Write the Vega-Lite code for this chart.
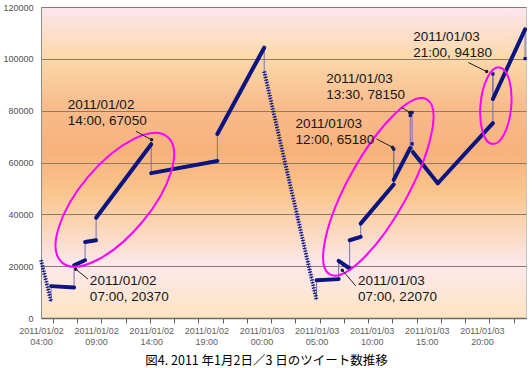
{
  "$schema": "https://vega.github.io/schema/vega-lite/v6.json",
  "width": 485,
  "height": 311,
  "autosize": {"type": "none"},
  "padding": {"left": 41, "top": 7, "right": 6, "bottom": 50},
  "background": "white",
  "title": {"text": "図4. 2011 年1月2日／3 日のツイート数推移", "orient": "bottom", "anchor": "middle", "dx": -17, "offset": 9, "font": "Noto Sans CJK JP", "fontSize": 12.5, "fontWeight": "normal", "color": "#000000"},
  "config": {
    "font": "Liberation Sans",
    "view": {
      "stroke": "#c4c4c4",
      "fill": {"gradient": "linear", "x1": 0, "y1": 0, "x2": 0, "y2": 1, "stops": [
        {"offset": 0, "color": "#fce6ee"},
        {"offset": 0.16, "color": "#fbd9aa"},
        {"offset": 0.32, "color": "#f8bb8c"},
        {"offset": 0.46, "color": "#f7b27c"},
        {"offset": 0.58, "color": "#f9c288"},
        {"offset": 0.7, "color": "#fbd6b6"},
        {"offset": 0.83, "color": "#fde8ec"},
        {"offset": 1, "color": "#fde4c0"}
      ]}
    }
  },
  "datasets": {
    "series": [
      {"i": 1, "t": "2011-01-02T04:00", "v": 22300, "seg": "A", "kind": "gap"},
      {"i": 2, "t": "2011-01-02T04:55", "v": 6300, "seg": "A", "kind": "gap"},
      {"i": 3, "t": "2011-01-02T04:55", "v": 12300, "seg": "B", "kind": "run"},
      {"i": 4, "t": "2011-01-02T07:00", "v": 11800, "seg": "B", "kind": "run"},
      {"i": 5, "t": "2011-01-02T07:00", "v": 20370, "seg": "C", "kind": "run"},
      {"i": 6, "t": "2011-01-02T08:00", "v": 22300, "seg": "C", "kind": "run"},
      {"i": 7, "t": "2011-01-02T08:00", "v": 29350, "seg": "D", "kind": "run"},
      {"i": 8, "t": "2011-01-02T09:00", "v": 30000, "seg": "D", "kind": "run"},
      {"i": 9, "t": "2011-01-02T09:00", "v": 38700, "seg": "E", "kind": "run"},
      {"i": 10, "t": "2011-01-02T14:00", "v": 67050, "seg": "E", "kind": "run"},
      {"i": 11, "t": "2011-01-02T14:00", "v": 55900, "seg": "F", "kind": "run"},
      {"i": 12, "t": "2011-01-02T20:00", "v": 60600, "seg": "F", "kind": "run"},
      {"i": 13, "t": "2011-01-02T20:00", "v": 71000, "seg": "G", "kind": "run"},
      {"i": 14, "t": "2011-01-03T00:15", "v": 104300, "seg": "G", "kind": "run"},
      {"i": 15, "t": "2011-01-03T00:15", "v": 95100, "seg": "H", "kind": "gap"},
      {"i": 16, "t": "2011-01-03T05:00", "v": 6900, "seg": "H", "kind": "gap"},
      {"i": 17, "t": "2011-01-03T05:00", "v": 14600, "seg": "I", "kind": "run"},
      {"i": 18, "t": "2011-01-03T07:00", "v": 15000, "seg": "I", "kind": "run"},
      {"i": 19, "t": "2011-01-03T07:00", "v": 22070, "seg": "J", "kind": "run"},
      {"i": 20, "t": "2011-01-03T08:00", "v": 19100, "seg": "J", "kind": "run"},
      {"i": 21, "t": "2011-01-03T08:00", "v": 30000, "seg": "K", "kind": "run"},
      {"i": 22, "t": "2011-01-03T09:00", "v": 31300, "seg": "K", "kind": "run"},
      {"i": 23, "t": "2011-01-03T09:00", "v": 36400, "seg": "L", "kind": "run"},
      {"i": 24, "t": "2011-01-03T12:00", "v": 51500, "seg": "L", "kind": "run"},
      {"i": 25, "t": "2011-01-03T12:00", "v": 65180, "seg": "S1", "kind": "spike"},
      {"i": 26, "t": "2011-01-03T12:00", "v": 53300, "seg": "M", "kind": "run"},
      {"i": 27, "t": "2011-01-03T13:30", "v": 65600, "seg": "M", "kind": "run"},
      {"i": 28, "t": "2011-01-03T13:30", "v": 78150, "seg": "S2", "kind": "spike"},
      {"i": 29, "t": "2011-01-03T13:40", "v": 79300, "seg": "S3", "kind": "spike"},
      {"i": 30, "t": "2011-01-03T13:40", "v": 67200, "seg": "S4", "kind": "spike"},
      {"i": 31, "t": "2011-01-03T13:45", "v": 64000, "seg": "N", "kind": "run"},
      {"i": 32, "t": "2011-01-03T16:00", "v": 52000, "seg": "N", "kind": "run"},
      {"i": 33, "t": "2011-01-03T16:00", "v": 52000, "seg": "O", "kind": "run"},
      {"i": 34, "t": "2011-01-03T21:00", "v": 75200, "seg": "O", "kind": "run"},
      {"i": 35, "t": "2011-01-03T21:00", "v": 94180, "seg": "S5", "kind": "spike"},
      {"i": 36, "t": "2011-01-03T21:00", "v": 84500, "seg": "P", "kind": "run"},
      {"i": 37, "t": "2011-01-03T23:55", "v": 111400, "seg": "P", "kind": "run"},
      {"i": 38, "t": "2011-01-03T23:55", "v": 100100, "seg": "S6", "kind": "spike"}
    ],
    "rings": [
      {"name": "E1", "t": "2011-01-02T10:42", "v": 45600},
      {"name": "E2", "t": "2011-01-03T10:36", "v": 50600},
      {"name": "E3", "t": "2011-01-03T21:16", "v": 81900}
    ],
    "arrows": [
      {"t": "2011-01-02T12:37", "v": 72040, "t2": "2011-01-02T14:02", "v2": 68740},
      {"t": "2011-01-02T08:16", "v": 15000, "t2": "2011-01-02T07:09", "v2": 18850},
      {"t": "2011-01-03T10:26", "v": 69110, "t2": "2011-01-03T11:53", "v2": 65880},
      {"t": "2011-01-03T12:42", "v": 81270, "t2": "2011-01-03T13:27", "v2": 79340},
      {"t": "2011-01-03T18:46", "v": 98570, "t2": "2011-01-03T20:26", "v2": 95110},
      {"t": "2011-01-03T08:33", "v": 12420, "t2": "2011-01-03T07:20", "v2": 18460}
    ],
    "notes": [
      {"t": "2011-01-02T06:26", "v": 85000, "label": "2011/01/02\n14:00, 67050"},
      {"t": "2011-01-02T08:26", "v": 16900, "label": "2011/01/02\n07:00, 20370"},
      {"t": "2011-01-03T03:05", "v": 77700, "label": "2011/01/03\n12:00, 65180"},
      {"t": "2011-01-03T05:53", "v": 95000, "label": "2011/01/03\n13:30, 78150"},
      {"t": "2011-01-03T13:46", "v": 111150, "label": "2011/01/03\n21:00, 94180"},
      {"t": "2011-01-03T08:46", "v": 16900, "label": "2011/01/03\n07:00, 22070"}
    ]
  },
  "encoding": {
    "x": {"field": "t", "type": "temporal",
      "scale": {"domain": [{"year": 2011, "month": 1, "date": 2, "hours": 4}, {"year": 2011, "month": 1, "date": 4, "hours": 0}]},
      "axis": {"orient": "bottom", "title": null, "grid": false,
        "ticks": true, "tickSize": 5, "tickColor": "#606060", "tickWidth": 1,
        "tickOpacity": {"condition": {"test": "minutes(datum.value) == 0", "value": 0}, "value": 1},
        "domain": true, "domainColor": "#6a6a6a", "domainWidth": 1.5,
        "values": [
          {"year": 2011, "month": 1, "date": 2, "hours": 4},
          {"year": 2011, "month": 1, "date": 2, "hours": 9},
          {"year": 2011, "month": 1, "date": 2, "hours": 14},
          {"year": 2011, "month": 1, "date": 2, "hours": 19},
          {"year": 2011, "month": 1, "date": 3, "hours": 0},
          {"year": 2011, "month": 1, "date": 3, "hours": 5},
          {"year": 2011, "month": 1, "date": 3, "hours": 10},
          {"year": 2011, "month": 1, "date": 3, "hours": 15},
          {"year": 2011, "month": 1, "date": 3, "hours": 20},
          {"year": 2011, "month": 1, "date": 2, "hours": 5, "minutes": 5},
          {"year": 2011, "month": 1, "date": 2, "hours": 7, "minutes": 17},
          {"year": 2011, "month": 1, "date": 2, "hours": 9, "minutes": 29},
          {"year": 2011, "month": 1, "date": 2, "hours": 11, "minutes": 41},
          {"year": 2011, "month": 1, "date": 2, "hours": 13, "minutes": 53},
          {"year": 2011, "month": 1, "date": 2, "hours": 16, "minutes": 5},
          {"year": 2011, "month": 1, "date": 2, "hours": 18, "minutes": 17},
          {"year": 2011, "month": 1, "date": 2, "hours": 20, "minutes": 29},
          {"year": 2011, "month": 1, "date": 2, "hours": 22, "minutes": 41},
          {"year": 2011, "month": 1, "date": 3, "hours": 0, "minutes": 53},
          {"year": 2011, "month": 1, "date": 3, "hours": 3, "minutes": 5},
          {"year": 2011, "month": 1, "date": 3, "hours": 5, "minutes": 17},
          {"year": 2011, "month": 1, "date": 3, "hours": 7, "minutes": 29},
          {"year": 2011, "month": 1, "date": 3, "hours": 9, "minutes": 41},
          {"year": 2011, "month": 1, "date": 3, "hours": 11, "minutes": 53},
          {"year": 2011, "month": 1, "date": 3, "hours": 14, "minutes": 5},
          {"year": 2011, "month": 1, "date": 3, "hours": 16, "minutes": 17},
          {"year": 2011, "month": 1, "date": 3, "hours": 18, "minutes": 29},
          {"year": 2011, "month": 1, "date": 3, "hours": 20, "minutes": 41},
          {"year": 2011, "month": 1, "date": 3, "hours": 22, "minutes": 53}
        ],
        "labelExpr": "minutes(datum.value) == 0 ? [timeFormat(datum.value, '%Y/%m/%d'), timeFormat(datum.value, '%H:%M')] : ''",
        "labelFont": "Liberation Sans", "labelFontSize": 9, "labelColor": "#606060",
        "labelLineHeight": 11, "labelPadding": 3, "labelBaseline": "top",
        "labelOverlap": false, "labelBound": false, "labelFlush": false}},
    "y": {"field": "v", "type": "quantitative", "scale": {"domain": [0, 120000], "nice": false},
      "axis": {"title": null, "orient": "left", "values": [0, 20000, 40000, 60000, 80000, 100000, 120000], "format": "d",
        "grid": true, "gridColor": "#8c7c66", "gridWidth": 1, "ticks": false, "tickSize": 0,
        "domain": true, "domainColor": "#8c8c8c",
        "labelFont": "Liberation Sans", "labelFontSize": 9, "labelColor": "#505050", "labelPadding": 8}}
  },
  "layer": [
    {
      "data": {"name": "series"},
      "mark": {"type": "line", "color": "#7270b0", "strokeWidth": 1},
      "encoding": {
        "order": {"field": "i", "type": "quantitative"}
      }
    },
    {
      "data": {"name": "series"},
      "transform": [{"filter": "datum.kind == 'run'"}],
      "mark": {"type": "line", "color": "#0b1480", "strokeWidth": 4, "strokeCap": "round"},
      "encoding": {
        "detail": {"field": "seg"},
        "order": {"field": "i", "type": "quantitative"}
      }
    },
    {
      "data": {"name": "series"},
      "transform": [{"filter": "datum.kind == 'gap'"}],
      "mark": {"type": "line", "color": "#0b1480", "strokeWidth": 4, "strokeDash": [1.2, 1.5], "strokeCap": "butt"},
      "encoding": {
        "detail": {"field": "seg"},
        "order": {"field": "i", "type": "quantitative"}
      }
    },
    {
      "data": {"name": "series"},
      "transform": [{"filter": "datum.kind == 'spike'"}],
      "mark": {"type": "point", "shape": "square", "filled": true, "size": 10, "color": "#0b1480", "opacity": 1},
      "encoding": {}
    },
    {
      "data": {"name": "rings"},
      "transform": [{"filter": "datum.name == 'E1'"}],
      "mark": {"type": "point", "filled": false, "stroke": "#ff00ff", "strokeWidth": 2, "opacity": 1, "size": 26896, "angle": -50,
        "shape": "M-1,0C-1,-0.2375,-0.5523,-0.43,0,-0.43C0.5523,-0.43,1,-0.2375,1,0C1,0.2375,0.5523,0.43,0,0.43C-0.5523,0.43,-1,0.2375,-1,0Z"},
      "encoding": {}
    },
    {
      "data": {"name": "rings"},
      "transform": [{"filter": "datum.name == 'E2'"}],
      "mark": {"type": "point", "filled": false, "stroke": "#ff00ff", "strokeWidth": 2, "opacity": 1, "size": 40000, "angle": -61,
        "shape": "M-1,0C-1,-0.1657,-0.5523,-0.3,0,-0.3C0.5523,-0.3,1,-0.1657,1,0C1,0.1657,0.5523,0.3,0,0.3C-0.5523,0.3,-1,0.1657,-1,0Z"},
      "encoding": {}
    },
    {
      "data": {"name": "rings"},
      "transform": [{"filter": "datum.name == 'E3'"}],
      "mark": {"type": "point", "filled": false, "stroke": "#ff00ff", "strokeWidth": 2, "opacity": 1, "size": 5929, "angle": -85,
        "shape": "M-1,0C-1,-0.2209,-0.5523,-0.4,0,-0.4C0.5523,-0.4,1,-0.2209,1,0C1,0.2209,0.5523,0.4,0,0.4C-0.5523,0.4,-1,0.2209,-1,0Z"},
      "encoding": {}
    },
    {
      "data": {"name": "arrows"},
      "mark": {"type": "rule", "color": "#202020", "strokeWidth": 1},
      "encoding": {
        "x2": {"field": "t2"},
        "y2": {"field": "v2"}
      }
    },
    {
      "data": {"name": "arrows"},
      "mark": {"type": "point", "filled": true, "size": 12, "color": "#202020", "opacity": 1},
      "encoding": {
        "x": {"field": "t2", "type": "temporal"},
        "y": {"field": "v2", "type": "quantitative"}
      }
    },
    {
      "data": {"name": "notes"},
      "mark": {"type": "text", "align": "left", "baseline": "top", "font": "Liberation Sans", "fontSize": 13.5, "lineHeight": 16, "lineBreak": "\n", "color": "#151515"},
      "encoding": {
        "text": {"field": "label"}
      }
    }
  ]
}
